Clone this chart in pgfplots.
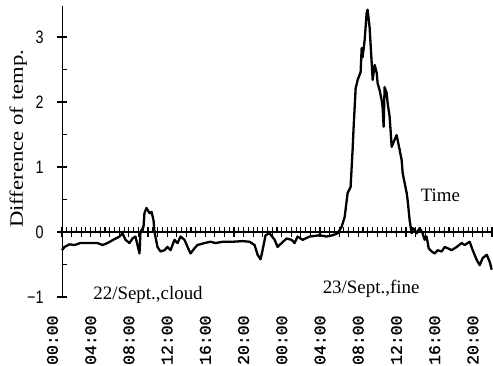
\documentclass[border=0pt]{standalone}
\usepackage{pgfplots}
\pgfplotsset{compat=1.18}
\usepackage{fontspec}
\setmainfont{Liberation Serif}
\newfontfamily\ticksans[FakeStretch=0.8]{Liberation Sans}
\newfontfamily\tickmono[FakeBold=1.2]{Liberation Mono}
\newfontfamily\ylabfont[FakeStretch=1.2]{Liberation Serif}
\begin{document}
\begin{tikzpicture}[x=1bp,y=1bp]
\useasboundingbox (0,0) rectangle (493,365);
\begin{axis}[
  at={(62bp,68bp)}, anchor=south west,
  scale only axis, width=430bp, height=291.2bp,
  xmin=1, xmax=46, ymin=-1, ymax=3.48,
  clip=false,
  axis x line=middle, axis y line=left,
  axis line style={-},
  every inner x axis line/.append style={-},
  every outer y axis line/.append style={-},
  x axis line style={line width=1.6bp},
  y axis line style={line width=0.9bp},
  hide obscured x ticks=false, hide obscured y ticks=false,
  tick align=center,
  major tick length=10bp, minor tick length=5bp,
  tick style={black, line width=1.1bp},
  minor x tick style={yshift=2.5bp},
  minor y tick style={xshift=2bp},
  ytick={-1,0,1,2,3},
  yticklabels={−1,0,1,2,3},
  minor ytick={-0.5,0.5,1.5,2.5},
  yticklabel style={font=\ticksans\fontsize{18}{18}\selectfont, anchor=east, xshift=-10bp},
  xtick={1,5,...,45},
  xticklabels={00:00,04:00,08:00,12:00,16:00,20:00,00:00,04:00,08:00,12:00,16:00,20:00},
  xticklabel style={font=\tickmono\fontsize{16.5}{16.5}\selectfont, xshift=-9.55bp, yshift=-75bp, rotate=90, anchor=east},
  extra x ticks={1,2,...,46},
  extra x tick labels={},
  minor xtick={1.5,2.5,...,45.5},
  every axis y label/.style={at={(axis description cs:-0.102,0.543)}, rotate=90, anchor=center},
  ylabel={\ylabfont\fontsize{19}{19}\selectfont Difference of temp.},
]
\addplot[black, line width=2.3bp, line join=round] coordinates {
(1.00,-0.28) (1.26,-0.23) (1.78,-0.19) (2.30,-0.20) (2.93,-0.17) (3.87,-0.17)
(4.71,-0.17) (5.24,-0.20) (5.76,-0.17) (6.49,-0.11) (7.02,-0.07) (7.33,-0.02)
(7.64,-0.12) (8.06,-0.17) (8.38,-0.10) (8.69,-0.07) (9.11,-0.33) (9.21,0.00)
(9.53,0.08) (9.63,0.29) (9.84,0.37) (10.16,0.29) (10.37,0.31) (10.58,0.18)
(10.68,0.00) (10.99,-0.23) (11.31,-0.30) (11.73,-0.28) (12.04,-0.23) (12.36,-0.28)
(12.77,-0.12) (13.09,-0.17) (13.40,-0.07) (13.82,-0.12) (14.14,-0.23) (14.45,-0.33)
(14.87,-0.25) (15.18,-0.20) (15.92,-0.17) (16.54,-0.15) (17.07,-0.17) (17.80,-0.15)
(18.85,-0.15) (19.90,-0.14) (20.63,-0.15) (21.15,-0.20) (21.47,-0.35) (21.78,-0.42)
(21.99,-0.28) (22.30,-0.05) (22.72,-0.02) (23.25,-0.12) (23.56,-0.23) (23.98,-0.17)
(24.50,-0.10) (25.03,-0.12) (25.34,-0.17) (25.65,-0.07) (26.18,-0.12) (26.91,-0.07)
(27.96,-0.05) (28.69,-0.07) (29.32,-0.05) (29.84,-0.02) (30.26,0.08) (30.58,0.23)
(30.89,0.60) (31.20,0.69) (31.41,1.26) (31.52,1.62) (31.73,2.21) (31.94,2.34)
(32.25,2.46) (32.36,2.83) (32.46,2.69) (32.67,2.95) (32.88,3.37) (32.98,3.42)
(33.19,3.15) (33.40,2.62) (33.51,2.34) (33.72,2.57) (33.93,2.45) (34.03,2.29)
(34.24,2.18) (34.45,2.03) (34.55,1.92) (34.66,1.62) (34.76,2.23) (34.97,2.14)
(35.08,1.98) (35.29,1.77) (35.50,1.31) (35.81,1.42) (36.02,1.49) (36.34,1.26)
(36.54,1.11) (36.65,0.91) (36.86,0.75) (37.07,0.60) (37.17,0.49) (37.38,0.18)
(37.59,-0.02) (37.70,0.06) (37.91,0.03) (38.12,-0.02) (38.43,0.06) (38.74,-0.02)
(38.95,-0.12) (39.16,-0.07) (39.37,-0.25) (39.69,-0.30) (40.00,-0.33) (40.31,-0.28)
(40.73,-0.30) (41.05,-0.23) (41.36,-0.25) (41.78,-0.28) (42.30,-0.23) (42.83,-0.17)
(43.14,-0.20) (43.66,-0.15) (43.98,-0.28) (44.40,-0.43) (44.71,-0.51) (45.03,-0.40)
(45.45,-0.35) (45.76,-0.46) (45.97,-0.58)
};
\node[font=\fontsize{19}{19}\selectfont] at (axis cs:40.6,0.57) {Time};
\node[font=\fontsize{19}{19}\selectfont] at (axis cs:10.0,-0.97) {22/Sept.,cloud};
\node[font=\fontsize{19}{19}\selectfont] at (axis cs:33.35,-0.88) {23/Sept.,fine};
\end{axis}
\end{tikzpicture}
\end{document}
